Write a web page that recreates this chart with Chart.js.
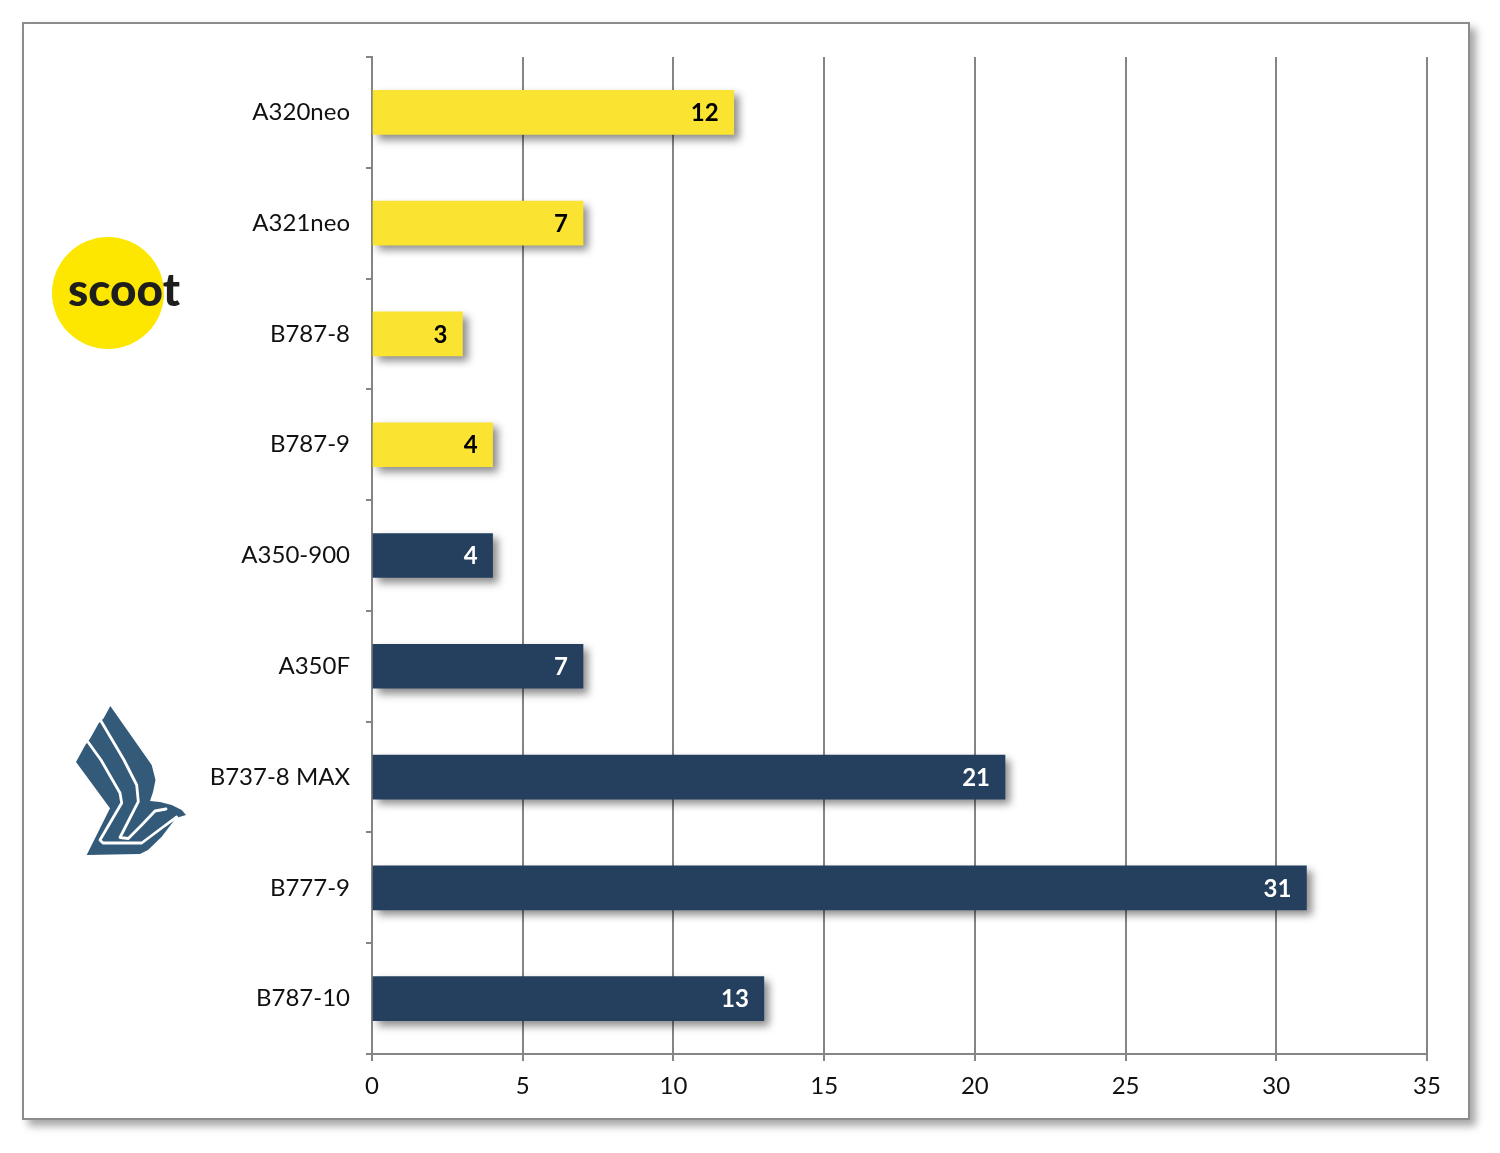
<!DOCTYPE html>
<html>
<head>
<meta charset="utf-8">
<script src="https://cdn.jsdelivr.net/npm/chart.js@4/dist/chart.umd.min.js"></script>
<style>
  body { margin: 0; background: #fff; }
  #frame {
    position: absolute; left: 22px; top: 22px; width: 1444px; height: 1094px;
    border: 2px solid #8c8c8c; background: #fff;
    box-shadow: 6px 6px 8px rgba(0,0,0,0.35);
  }
  #chart { position: absolute; left: 0; top: 0; }
</style>
</head>
<body>
<div id="frame"></div>
<canvas id="chart" width="1500" height="1153"></canvas>
<script>
const scootTypes = ['A320neo', 'A321neo', 'B787-8', 'B787-9'];
const scootCounts = [12, 7, 3, 4];
const siaTypes = ['A350-900', 'A350F', 'B737-8 MAX', 'B777-9', 'B787-10'];
const siaCounts = [4, 7, 21, 31, 13];
const xTicks = [0, 5, 10, 15, 20, 25, 30, 35];

const yellow = '#fbe431';
const navy = '#253f5e';
const gridGray = '#858585';

const tipos = scootTypes.concat(siaTypes);
const pedidos = scootCounts.concat(siaCounts);
const colores = tipos.map((t, i) => i < scootTypes.length ? yellow : navy);

// sombra de las barras y numero dentro de cada barra
const barrasPlugin = {
    id: 'barras',
    beforeDatasetsDraw(chart) {
        const ctx = chart.ctx;
        ctx.save();
        ctx.shadowColor = 'rgba(0,0,0,0.45)';
        ctx.shadowBlur = 8;
        ctx.shadowOffsetX = 5;
        ctx.shadowOffsetY = 5;
    },
    afterDatasetsDraw(chart) {
        const ctx = chart.ctx;
        ctx.restore();
        const meta = chart.getDatasetMeta(0);
        ctx.save();
        ctx.font = 'bold 24px Lato';
        ctx.textAlign = 'right';
        ctx.textBaseline = 'middle';
        meta.data.forEach((bar, i) => {
            ctx.fillStyle = i < scootTypes.length ? '#000' : '#fff';
            ctx.fillText(String(pedidos[i]), bar.x - 15, bar.y + 1);
        });
        ctx.restore();
    }
};

function trazo(ctx, pts) {
    ctx.beginPath();
    pts.forEach((pt, i) => {
        if (i === 0) ctx.moveTo(pt[0], pt[1]); else ctx.lineTo(pt[0], pt[1]);
    });
}

// logos de scoot y SIA
const logosPlugin = {
    id: 'logos',
    afterDraw(chart) {
        const ctx = chart.ctx;
        ctx.save();
        ctx.fillStyle = '#fde700';
        ctx.beginPath();
        ctx.arc(108, 293, 56, 0, Math.PI * 2);
        ctx.fill();

        ctx.fillStyle = '#1e1e1e';
        ctx.font = '900 46px Lato';
        ctx.textBaseline = 'alphabetic';
        const w = ctx.measureText('scoot').width;
        ctx.save();
        ctx.translate(68, 306);
        ctx.scale(112 / w, 1);
        ctx.fillText('scoot', 0, 0);
        ctx.restore();

        // pajaro SIA
        const silueta = [
            [110.3, 706], [151.7, 765], [155.5, 780], [153, 792], [150, 801],
            [160, 802], [171.7, 805], [181.7, 810], [186, 815], [176, 818],
            [161.7, 836.7], [148, 850], [140, 854], [86.7, 855], [110, 808.3],
            [76, 762], [85.3, 745], [90.3, 738.3], [98.7, 723.3], [103.7, 718.3]
        ];
        ctx.fillStyle = '#345a7a';
        trazo(ctx, silueta);
        ctx.closePath();
        ctx.fill();

        ctx.strokeStyle = '#fff';
        ctx.lineWidth = 2.8;
        ctx.lineJoin = 'round';
        ctx.lineCap = 'round';
        const cortes = [
            [[88, 742], [101, 760], [120, 793], [121.7, 803], [100, 840], [103, 843],
             [141.7, 843], [161.7, 828], [176.7, 817]],
            [[101, 721], [124, 760], [136.7, 785], [138.3, 801.7], [120, 837.5],
             [128.3, 838.5], [141.7, 825], [155, 811], [166, 809]]
        ];
        cortes.forEach(linea => {
            trazo(ctx, linea);
            ctx.stroke();
        });
        ctx.restore();
    }
};

document.addEventListener('DOMContentLoaded', function() {
    const ctx = document.getElementById('chart').getContext('2d');
    new Chart(ctx, {
        type: 'bar',
        data: {
            labels: tipos,
            datasets: [{
                label: 'Pedidos',
                data: pedidos,
                backgroundColor: colores,
                borderWidth: 0,
                barThickness: 44
            }]
        },
        plugins: [barrasPlugin, logosPlugin],
        options: {
            indexAxis: 'y',
            responsive: false,
            animation: false,
            layout: { padding: { top: 57, right: 73, left: 0, bottom: 0 } },
            plugins: {
                legend: { display: false },
                tooltip: { enabled: false }
            },
            scales: {
                x: {
                    min: 0,
                    max: 35,
                    afterFit: s => { s.height = 99; },
                    afterBuildTicks: s => { s.ticks = xTicks.map(v => ({ value: v })); },
                    grid: {
                        color: gridGray,
                        lineWidth: 2,
                        tickLength: 7
                    },
                    border: { display: true, color: gridGray, width: 2 },
                    ticks: {
                        color: '#111',
                        padding: 11,
                        font: { family: 'Lato', size: 24 }
                    }
                },
                y: {
                    afterFit: s => { s.width = 372; },
                    grid: {
                        drawOnChartArea: false,
                        color: gridGray,
                        lineWidth: 2,
                        tickLength: 6
                    },
                    border: { display: true, color: gridGray, width: 2 },
                    ticks: {
                        color: '#111',
                        padding: 16,
                        font: { family: 'Lato', size: 24 }
                    }
                }
            }
        }
    });
});
</script>
</body>
</html>
